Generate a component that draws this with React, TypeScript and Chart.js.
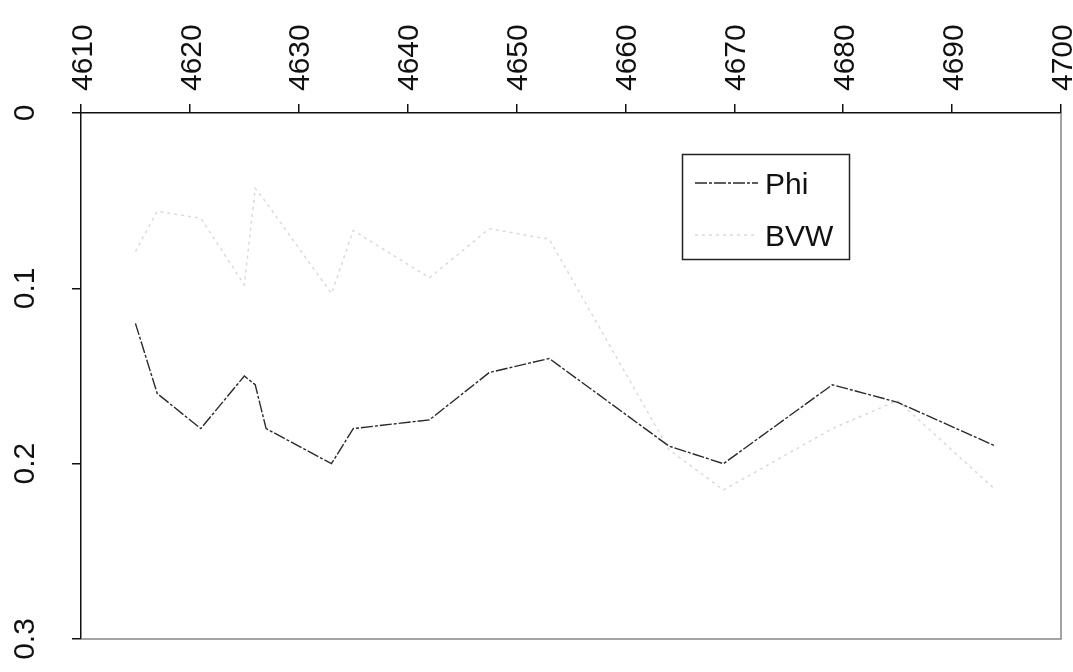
import React, { useEffect, useRef } from "react";
import { Chart, registerables } from "chart.js";

Chart.register(...registerables);

// Depth (x) of each sample
const depths = [4615, 4617, 4621, 4625, 4626, 4627, 4633, 4635, 4642, 4647.5, 4653, 4664, 4669, 4679, 4685, 4694];
// Series values
const phiValues = [0.12, 0.16, 0.18, 0.15, 0.155, 0.18, 0.2, 0.18, 0.175, 0.148, 0.14, 0.19, 0.2, 0.155, 0.165, 0.19];
const bvwValues = [0.079, 0.056, 0.06, 0.098, 0.043, 0.051, 0.103, 0.067, 0.094, 0.066, 0.072, 0.192, 0.215, 0.18, 0.164, 0.215];
const seriesLabels = ["Phi", "BVW"];

// Tick values and labels
const xTickValues = [4610, 4620, 4630, 4640, 4650, 4660, 4670, 4680, 4690, 4700];
const xTickLabels = ["4610", "4620", "4630", "4640", "4650", "4660", "4670", "4680", "4690", "4700"];
const yTickValues = [0, 0.1, 0.2, 0.3];
const yTickLabels = ["0", "0.1", "0.2", "0.3"];

const FONT = '30px "Liberation Sans", Arial, sans-serif';

const PHI_COLOR = "#2a2a2a";
const BVW_COLOR = "#dadada";

const customDraw = {
  id: "customDraw",
  afterDraw(chart: any) {
    const ctx = chart.ctx as CanvasRenderingContext2D;
    const xs = chart.scales.x;
    const ys = chart.scales.y;
    const area = chart.chartArea;
    ctx.save();

    // right & bottom frame lines
    ctx.strokeStyle = "#858585";
    ctx.lineWidth = 1.5;
    ctx.beginPath();
    ctx.moveTo(area.right, area.top);
    ctx.lineTo(area.right, area.bottom);
    ctx.lineTo(area.left, area.bottom);
    ctx.stroke();

    ctx.font = FONT;
    ctx.fillStyle = "#111";

    // x tick labels (rotated, on top)
    xs.ticks.forEach((t: any, i: number) => {
      const px = xs.getPixelForValue(t.value);
      ctx.save();
      ctx.translate(px, area.top - 22);
      ctx.rotate(-Math.PI / 2);
      ctx.textAlign = "left";
      ctx.textBaseline = "alphabetic";
      ctx.fillText(xTickLabels[i] ?? String(t.value), 0, 10.7);
      ctx.restore();
    });

    // y tick labels (rotated, on left)
    ys.ticks.forEach((t: any, i: number) => {
      const py = ys.getPixelForValue(t.value);
      ctx.save();
      ctx.translate(34, py);
      ctx.rotate(-Math.PI / 2);
      ctx.textAlign = "center";
      ctx.textBaseline = "alphabetic";
      ctx.fillText(yTickLabels[i] ?? String(t.value), 0, 0);
      ctx.restore();
    });

    // legend
    const bx = 682.5, by = 154.5, bw = 167, bh = 105;
    ctx.fillStyle = "#fff";
    ctx.fillRect(bx, by, bw, bh);
    ctx.strokeStyle = "#222";
    ctx.lineWidth = 1.5;
    ctx.strokeRect(bx, by, bw, bh);

    const items = chart.data.datasets;
    const rows = [183, 235];
    items.forEach((ds: any, i: number) => {
      const y = rows[i];
      ctx.save();
      ctx.strokeStyle = ds.borderColor;
      ctx.lineWidth = ds.borderWidth;
      ctx.setLineDash(ds.borderDash || []);
      ctx.beginPath();
      ctx.moveTo(695, y);
      ctx.lineTo(758, y);
      ctx.stroke();
      ctx.restore();
      ctx.fillStyle = "#111";
      ctx.font = FONT;
      ctx.textAlign = "left";
      ctx.textBaseline = "alphabetic";
      ctx.fillText(ds.label, 765, y + 10.5);
    });

    ctx.restore();
  },
};

export default function App() {
  const canvasRef = useRef<HTMLCanvasElement | null>(null);

  useEffect(() => {
    if (!canvasRef.current) return;
    const chart = new Chart(canvasRef.current, {
      type: "line",
      data: {
        datasets: [
          {
            label: seriesLabels[0],
            data: depths.map((d, i) => ({ x: d, y: phiValues[i] })),
            borderColor: PHI_COLOR,
            borderWidth: 1.4,
            borderDash: [12, 2, 3, 2],
            pointRadius: 0,
            fill: false,
            tension: 0,
          },
          {
            label: seriesLabels[1],
            data: depths.map((d, i) => ({ x: d, y: bvwValues[i] })),
            borderColor: BVW_COLOR,
            borderWidth: 1.5,
            borderDash: [3, 4],
            pointRadius: 0,
            fill: false,
            tension: 0,
          },
        ],
      },
      options: {
        responsive: false,
        devicePixelRatio: 1,
        animation: false,
        layout: { padding: { left: 0, top: 0, right: 12, bottom: 33 } },
        plugins: { legend: { display: false }, tooltip: { enabled: false } },
        scales: {
          x: {
            type: "linear",
            position: "top",
            min: 4610,
            max: 4700,
            afterBuildTicks: (s: any) => {
              s.ticks = xTickValues.map((v) => ({ value: v }));
            },
            afterFit: (s: any) => {
              s.height = 113;
            },
            ticks: { display: false },
            grid: {
              display: true,
              drawOnChartArea: false,
              drawTicks: true,
              tickLength: 9,
              color: "#111",
              lineWidth: 1.5,
            },
            border: { display: true, color: "#111", width: 1.5 },
          },
          y: {
            type: "linear",
            reverse: true,
            min: 0,
            max: 0.3,
            afterBuildTicks: (s: any) => {
              s.ticks = yTickValues.map((v) => ({ value: v }));
            },
            afterFit: (s: any) => {
              s.width = 81;
            },
            ticks: { display: false },
            grid: {
              display: true,
              drawOnChartArea: false,
              drawTicks: true,
              tickLength: 9,
              color: "#111",
              lineWidth: 1.5,
            },
            border: { display: true, color: "#111", width: 1.5 },
          },
        },
      },
      plugins: [customDraw],
    });
    return () => chart.destroy();
  }, []);

  return (
    <div style={{ position: "absolute", left: 0, top: 0, width: 1073, height: 672, background: "#fff" }}>
      <canvas ref={canvasRef} width={1073} height={672} style={{ display: "block" }} />
    </div>
  );
}
